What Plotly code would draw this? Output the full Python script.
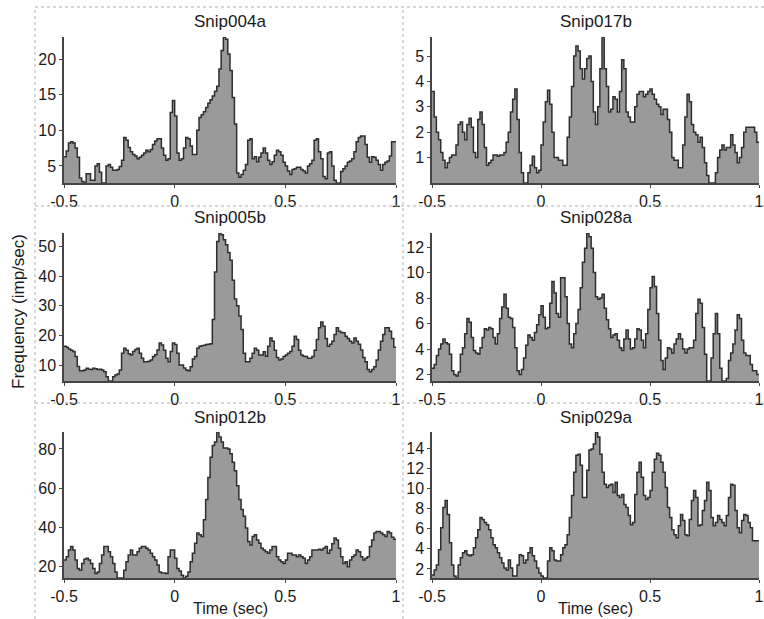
import plotly.graph_objects as go

# ---------------- data (10 ms bins from -0.5 s to 1.0 s) ----------------
bin_start = -0.5
bin_width = 0.01

titles = ["Snip004a", "Snip017b", "Snip005b", "Snip028a", "Snip012b", "Snip029a"]

snip004a = [
    6.3, 7.1, 8.2, 8.4, 8.2, 7.5, 6.2, 3.3, 2.8, 2.6,
    3.9, 3.9, 3.0, 3.0, 5.0, 5.3, 4.1, 2.6, 2.6, 5.0,
    5.2, 4.8, 4.4, 4.4, 4.5, 4.9, 5.8, 9.0, 8.6, 7.6,
    7.0, 6.6, 6.4, 6.0, 6.2, 6.5, 6.8, 7.2, 7.0, 7.3,
    8.0, 8.5, 8.8, 8.8, 7.5, 6.5, 5.8, 6.0, 12.5, 14.2,
    12.0, 6.8, 5.8, 6.0, 7.5, 9.0, 8.8, 7.8, 6.6, 6.6,
    10.0, 11.8, 12.2, 12.6, 13.2, 13.8, 14.3, 14.8, 15.5, 16.2,
    18.6, 21.2, 23.1, 22.8, 20.7, 18.4, 14.6, 10.9, 4.0, 3.4,
    3.8, 4.4, 5.2, 8.6, 8.8, 6.0, 6.3, 5.6, 6.2, 6.8,
    7.5, 6.8, 5.8, 5.2, 5.6, 6.5, 7.2, 7.0, 6.5, 5.5,
    5.0, 4.3, 3.8, 4.5, 4.6, 4.8, 4.8, 4.5, 4.3, 4.0,
    5.0, 5.3, 5.8, 8.6, 8.8, 7.0, 6.0, 3.5, 3.2, 6.8,
    7.0, 5.0, 3.0, 2.6, 2.6, 4.2, 4.6, 5.0, 5.5, 5.7,
    6.0, 7.0, 8.4, 9.0, 9.2, 9.2, 8.0, 6.2, 5.5, 6.3,
    6.2, 5.8, 5.2, 4.4, 5.2, 5.5, 5.7, 6.4, 8.4, 8.4,
]

snip017b = [
    3.6, 2.6, 2.0, 1.7, 1.2, 0.9, 0.6, 0.8, 1.0, 1.1,
    1.1, 1.5, 2.3, 2.4, 2.0, 1.7, 2.3, 2.55, 2.2, 1.2,
    1.0, 2.5, 2.8, 2.3, 1.4, 0.7, 0.8, 0.9, 1.1, 1.1,
    1.05, 1.1, 1.1, 1.2, 1.6, 2.0, 2.8, 3.3, 3.7, 2.5,
    1.2, 0.4, 0.0, 0.0, 0.4, 0.7, 1.05, 0.6, 0.4, 0.5,
    1.5, 2.4, 3.2, 3.65, 3.1, 2.0, 1.0, 1.0, 0.9, 0.9,
    0.7, 0.7, 1.8, 2.6, 3.8, 5.0, 5.4, 5.2, 4.5, 4.1,
    4.5, 4.9, 5.0, 4.0, 2.8, 2.3, 3.0, 4.5, 5.75, 4.5,
    3.8, 2.8, 2.9, 3.4, 3.3, 2.8, 3.6, 4.85, 4.5, 2.8,
    2.6, 2.4, 2.4, 3.0, 3.5, 3.6, 3.6, 3.4, 3.5, 3.6,
    3.7, 3.5, 3.3, 3.1, 3.0, 2.7, 2.9, 2.9, 2.5, 2.0,
    1.0, 0.9, 0.9, 0.6, 0.6, 1.5, 2.6, 3.5, 3.2, 2.3,
    2.0, 1.9, 1.6, 1.8, 1.4, 0.8, 0.3, 0.0, 0.0, 0.0,
    0.4, 1.0, 1.3, 1.5, 1.3, 1.4, 1.4, 1.9, 1.5, 1.2,
    0.8, 1.0, 1.4, 2.0, 2.2, 2.2, 2.2, 2.2, 2.0, 1.6,
]

snip005b = [
    16.3, 16.0, 15.4, 15.0, 14.6, 12.9, 9.5, 8.1, 8.1, 8.3,
    8.9, 8.6, 8.5, 8.9, 8.7, 8.5, 8.6, 8.3, 7.7, 6.0,
    4.6, 4.6, 6.0, 6.6, 7.0, 8.3, 14.0, 15.7, 15.0, 13.8,
    13.4, 14.6, 15.2, 15.7, 14.0, 12.3, 11.1, 11.1, 11.3, 11.7,
    12.9, 13.5, 15.1, 17.4, 16.8, 15.0, 12.3, 11.1, 14.6, 17.4,
    16.9, 14.0, 10.0, 10.0, 9.0, 8.3, 8.1, 9.4, 12.0, 12.9,
    15.7, 16.3, 16.5, 16.7, 16.9, 17.0, 17.2, 25.4, 41.4, 51.7,
    54.6, 54.0, 52.3, 50.6, 48.0, 45.4, 38.6, 32.3, 30.0, 26.6,
    22.0, 14.0, 11.1, 11.1, 12.3, 14.0, 15.7, 15.0, 13.4, 13.4,
    14.5, 13.0, 16.3, 19.1, 18.0, 15.0, 12.5, 11.7, 12.0, 12.9,
    13.4, 14.0, 14.6, 16.3, 19.7, 18.6, 15.0, 13.4, 13.0, 12.9,
    12.3, 12.3, 12.9, 15.0, 18.6, 22.6, 24.5, 23.1, 19.0, 16.3,
    17.0, 18.0, 20.3, 22.6, 21.4, 21.0, 20.9, 19.7, 19.0, 18.0,
    17.4, 19.1, 18.0, 17.0, 15.1, 12.5, 11.1, 8.5, 7.7, 8.5,
    9.4, 11.7, 15.1, 18.0, 20.3, 22.6, 22.6, 21.4, 19.0, 16.0,
]

snip028a = [
    2.5, 2.8, 3.5, 4.0, 4.4, 4.8, 4.5, 4.4, 3.6, 2.3,
    2.0, 1.9, 2.2, 3.6, 4.1, 5.2, 6.4, 6.1, 4.9, 3.9,
    3.7, 3.6, 4.1, 4.9, 5.6, 5.5, 5.7, 5.6, 4.9, 4.4,
    5.2, 6.4, 7.3, 8.3, 7.2, 6.5, 6.4, 5.7, 4.1, 2.3,
    2.0, 2.4, 3.3, 4.3, 5.1, 4.9, 4.7, 5.3, 5.9, 6.7,
    7.4, 6.5, 5.6, 5.7, 7.6, 9.3, 8.4, 6.8, 6.5, 9.6,
    9.6, 8.1, 6.0, 4.4, 4.1, 5.2, 6.0, 7.1, 8.8, 10.8,
    11.9, 13.1, 12.8, 11.9, 10.0, 8.1, 7.9, 8.0, 8.3, 7.2,
    6.3, 5.6, 4.9, 5.1, 5.2, 4.7, 4.1, 3.9, 4.8, 5.5,
    4.8, 4.0, 4.1, 4.8, 5.6, 5.5, 4.7, 4.1, 5.2, 7.1,
    8.8, 9.7, 8.9, 6.8, 4.7, 3.1, 2.4, 3.3, 4.1, 4.0,
    3.7, 4.4, 4.8, 5.2, 4.8, 4.0, 3.7, 4.0, 4.1, 4.1,
    4.7, 6.8, 7.9, 7.6, 5.7, 3.6, 1.5, 1.5, 3.3, 5.2,
    6.8, 5.2, 2.5, 1.5, 1.5, 1.7, 3.1, 3.7, 4.4, 5.5,
    6.7, 6.4, 4.7, 3.7, 3.5, 3.5, 2.8, 2.3, 2.3, 2.0,
]

snip012b = [
    23.4, 25.1, 28.6, 30.3, 28.6, 23.4, 19.1, 18.3, 21.7, 23.8,
    24.3, 23.4, 21.7, 19.1, 16.6, 17.4, 21.7, 26.0, 30.3, 30.3,
    27.7, 25.1, 21.7, 17.4, 14.3, 14.3, 14.3, 18.3, 22.6, 26.0,
    28.6, 26.0, 26.0, 27.7, 29.4, 30.3, 30.3, 29.4, 28.6, 26.9,
    25.1, 23.4, 20.9, 17.4, 16.9, 16.9, 16.6, 25.1, 28.6, 28.6,
    24.3, 19.1, 17.9, 15.7, 14.3, 15.2, 17.4, 22.6, 26.9, 32.0,
    37.2, 36.3, 35.4, 44.0, 54.3, 65.5, 75.7, 81.7, 83.5, 88.6,
    86.0, 83.5, 80.4, 80.4, 80.0, 77.5, 73.2, 68.9, 61.2, 54.3,
    49.2, 45.7, 39.7, 32.9, 31.1, 35.4, 36.3, 33.7, 32.0, 29.4,
    28.6, 27.7, 26.9, 28.6, 30.3, 30.3, 25.1, 23.4, 22.6, 21.7,
    23.4, 26.9, 26.9, 26.0, 26.0, 25.1, 26.0, 25.1, 24.3, 21.7,
    23.4, 25.1, 28.6, 28.6, 28.6, 28.9, 28.6, 29.4, 30.3, 26.9,
    28.6, 31.7, 34.6, 33.7, 29.4, 25.1, 21.7, 22.6, 20.0, 23.4,
    25.1, 26.0, 28.6, 27.7, 25.1, 23.4, 24.3, 25.1, 30.3, 33.7,
    37.2, 38.0, 38.0, 37.2, 36.3, 35.4, 38.0, 37.2, 35.0, 34.0,
]

snip029a = [
    1.4, 1.9, 2.4, 3.9, 6.1, 8.1, 8.8, 7.4, 4.6, 2.4,
    1.3, 1.1, 2.4, 3.1, 3.6, 3.8, 3.4, 3.3, 3.4, 4.1,
    5.1, 5.9, 7.1, 6.9, 6.6, 6.4, 5.9, 5.1, 4.4, 4.1,
    3.6, 3.1, 2.6, 2.1, 1.9, 2.9, 2.1, 1.3, 1.3, 2.4,
    3.4, 3.3, 2.6, 2.9, 3.6, 4.1, 3.3, 2.8, 2.1, 1.6,
    1.3, 1.1, 1.1, 2.8, 4.1, 3.8, 2.9, 2.8, 2.8, 3.4,
    4.1, 4.4, 5.4, 7.1, 9.3, 11.6, 13.3, 13.4, 12.3, 9.1,
    9.1, 11.8, 13.8, 13.9, 14.4, 15.6, 15.1, 13.4, 11.6, 10.4,
    10.1, 10.3, 10.4, 9.6, 10.6, 9.3, 9.1, 9.4, 8.4, 8.1,
    7.3, 6.4, 6.6, 9.4, 11.6, 12.6, 11.1, 9.3, 8.9, 9.1,
    9.8, 11.6, 12.9, 13.5, 13.3, 12.6, 11.6, 10.1, 8.1, 7.1,
    5.9, 5.4, 5.1, 6.3, 7.4, 6.8, 5.4, 5.3, 6.9, 8.8,
    9.8, 9.1, 6.3, 6.4, 7.8, 8.8, 10.6, 9.8, 7.1, 6.3,
    6.6, 7.3, 6.9, 6.6, 6.3, 7.3, 9.1, 10.4, 10.3, 7.8,
    6.1, 5.6, 6.8, 7.4, 7.3, 6.6, 6.1, 4.8, 4.8, 4.8,
]

series = [snip004a, snip017b, snip005b, snip028a, snip012b, snip029a]

y_tickvals = [
    [5, 10, 15, 20],
    [1, 2, 3, 4, 5],
    [10, 20, 30, 40, 50],
    [2, 4, 6, 8, 10, 12],
    [20, 40, 60, 80],
    [2, 4, 6, 8, 10, 12, 14],
]
x_tickvals = [-0.5, 0, 0.5, 1]
x_ticktext = ["-0.5", "0", "0.5", "1"]

# ---------------- layout geometry (page pixels; body margin removed) ----------------
W, H = 764, 619
col_px = [(64, 396), (432, 759)]
row_px = [(37, 183), (233, 381), (432, 578)]


def px(x):
    return x / W


def py(y):
    return 1 - y / H


FONT = "Liberation Sans, Arial, sans-serif"
FILL = "#9a9a9a"
EDGE = "#2e2e2e"
AXC = "#444444"
TXT = "#1a1a1a"

fig = go.Figure()
layout_axes = {}
annotations = []

for k, vals in enumerate(series):
    r, c = divmod(k, 2)
    n = len(vals)
    xs = [bin_start + bin_width * i for i in range(n)] + [bin_start + bin_width * n]
    ys = list(vals) + [vals[-1]]
    xa = "x" if k == 0 else f"x{k+1}"
    ya = "y" if k == 0 else f"y{k+1}"
    fig.add_trace(go.Scatter(
        x=xs, y=ys, xaxis=xa, yaxis=ya, mode="lines",
        line=dict(shape="hv", color=EDGE, width=1.5),
        fill="tozeroy", fillcolor=FILL, showlegend=False, hoverinfo="skip",
    ))
    x0, x1 = col_px[c]
    t0, t1 = row_px[r]
    xkey = "xaxis" if k == 0 else f"xaxis{k+1}"
    ykey = "yaxis" if k == 0 else f"yaxis{k+1}"
    layout_axes[xkey] = dict(
        domain=[px(x0), px(x1)], anchor=ya, range=[bin_start, bin_start + bin_width * n],
        tickvals=x_tickvals, ticktext=x_ticktext, showgrid=False, zeroline=False,
        showline=True, linecolor=AXC, linewidth=2, ticks="outside", ticklen=3,
        tickcolor=AXC, tickfont=dict(family=FONT, size=16, color=TXT),
        automargin=False, ticklabeloverflow="allow",
    )
    layout_axes[ykey] = dict(
        domain=[py(t1), py(t0)], anchor=xa, range=[min(vals), max(vals)],
        tickvals=y_tickvals[k], showgrid=False, zeroline=False,
        showline=True, linecolor=AXC, linewidth=1.5, ticks="outside", ticklen=3,
        tickcolor=AXC, tickfont=dict(family=FONT, size=16, color=TXT),
        automargin=False,
    )
    annotations.append(dict(
        text=titles[k], x=px((x0 + x1) / 2), y=py(t0 - 15),
        xref="paper", yref="paper", showarrow=False, xanchor="center", yanchor="middle",
        font=dict(family=FONT, size=17, color=TXT),
    ))

# axis titles
for c in range(2):
    x0, x1 = col_px[c]
    annotations.append(dict(
        text="Time (sec)", x=px((x0 + x1) / 2), y=py(608),
        xref="paper", yref="paper", showarrow=False, xanchor="center", yanchor="middle",
        font=dict(family=FONT, size=16, color=TXT),
    ))
annotations.append(dict(
    text="Frequency (imp/sec)", x=px(18), y=py(312), textangle=-90,
    xref="paper", yref="paper", showarrow=False, xanchor="center", yanchor="middle",
    font=dict(family=FONT, size=17, color=TXT),
))

# dotted panel borders
DOT = dict(color="#b0b0b0", width=1, dash="dot")
shapes = []
for yy in (7, 206, 403):
    shapes.append(dict(type="line", xref="paper", yref="paper",
                       x0=px(35), x1=1, y0=py(yy), y1=py(yy), line=DOT))
for xx in (35, 403):
    shapes.append(dict(type="line", xref="paper", yref="paper",
                       x0=px(xx), x1=px(xx), y0=0, y1=py(7), line=DOT))

fig.update_layout(
    width=W, height=H, margin=dict(l=0, r=0, t=0, b=0, autoexpand=False),
    paper_bgcolor="white", plot_bgcolor="white",
    annotations=annotations, shapes=shapes, **layout_axes,
)

fig.write_html(
    "out.html",
    config={"displayModeBar": False},
    post_script="document.body.style.margin='0';"
                "document.documentElement.style.overflow='hidden';",
)
